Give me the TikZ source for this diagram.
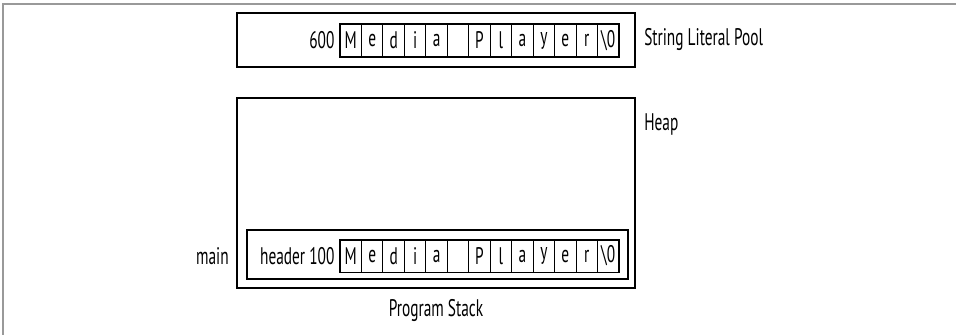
\documentclass[tikz,border=0pt]{standalone}
\usepackage{fontspec}
\setmainfont[FakeStretch=0.64]{PT Sans}
\usetikzlibrary{fit}
\begin{document}
\begin{tikzpicture}[x=0.75pt,y=-0.75pt,
  every node/.style={font=\fontsize{18}{20}\selectfont},
  bigbox/.style={draw, line width=1.5pt, rectangle, inner sep=0pt},
  cellbox/.style={draw, line width=0.75pt, rectangle, inner sep=0pt,
    minimum width={21.46*0.75pt}, minimum height={32*0.75pt}},
  rowbox/.style={draw, line width=1.2pt, rectangle, inner sep=0pt},
  lbl/.style={inner xsep=3pt, inner ysep=1pt},
  framegray/.style={draw=black!40, line width=1.2pt}]
\useasboundingbox (0,0) rectangle (956,335);
% page frame
\coordinate (ftl) at (3,4);
\coordinate (ftr) at (960,4);
\coordinate (fbl) at (3,340);
\draw[framegray] (fbl) -- (ftl) -- (ftr);
% containers
\node[bigbox, minimum width={398*0.75pt}, minimum height={54*0.75pt}] (pool) at (436,40) {};
\node[bigbox, minimum width={398*0.75pt}, minimum height={190*0.75pt}] (heap) at (436,193) {};
\node[bigbox, minimum width={381*0.75pt}, minimum height={49*0.75pt}] (mainf) at (437.5,254.5) {};
% cells
\foreach \c [count=\i] in {M,e,d,i,a,{},P,l,a,y,e,r,{\textbackslash 0}} {
  \node[cellbox] (t\i) at ({340+21.46*(\i-0.5)},40.5) {\c};
  \node[cellbox] (b\i) at ({340+21.46*(\i-0.5)},256) {\c};
}
\node[rowbox, fit=(t1)(t13)] (trow) {};
\node[rowbox, fit=(b1)(b13)] (brow) {};
% labels
\node[lbl, anchor=east] (n600) at (trow.west) {600};
\node[lbl, anchor=east] (hdr) at (brow.west) {header 100};
\node[lbl, anchor=west] (pooll) at (640,40) {String Literal Pool};
\node[lbl, anchor=west] (heapl) at (640,124) {Heap};
\node[lbl, anchor=east] (mainl) at (233,256) {main};
\node[lbl] (stackl) at (436,310) {Program Stack};
\end{tikzpicture}
\end{document}
